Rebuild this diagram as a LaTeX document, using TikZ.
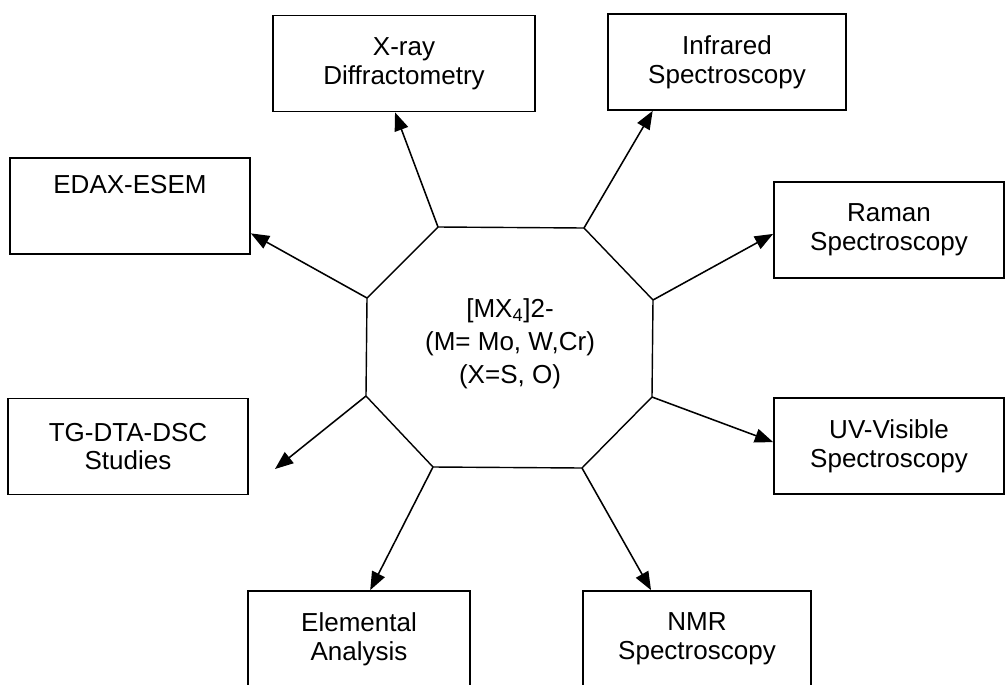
\documentclass[tikz,border=0pt]{standalone}
\usepackage{fontspec}
\setmainfont{Liberation Sans}
\usetikzlibrary{calc,arrows.meta,positioning}

\begin{document}
\begin{tikzpicture}[x=0.025cm,y=-0.025cm,
        box/.style={draw,line width=1.2pt,minimum height=2.4cm,align=center,
            inner sep=0pt,font=\fontsize{18.5}{20.5}\selectfont},
        arr/.style={line width=1.1pt,-{Triangle[length=13pt,width=10pt]}}]
        \useasboundingbox (0,0) rectangle (1008,685);

        % Восьмикутник у центрі (не правильний: 287 x 240)
        \coordinate (O1) at (438,227);
        \coordinate (O2) at (584,228);
        \coordinate (O3) at (653,300);
        \coordinate (O4) at (652,397);
        \coordinate (O5) at (582,468);
        \coordinate (O6) at (433,467);
        \coordinate (O7) at (366,396);
        \coordinate (O8) at (367,298);
        \draw[line width=1pt] (O1) -- (O2) -- (O3) -- (O4) -- (O5) -- (O6) -- (O7) -- (O8) -- cycle;

        \node[align=center,font=\fontsize{18.5}{20.5}\selectfont] (M) at (510,344)
            {[MX\textsubscript{4}]2-\\[3pt](M= Mo, W,Cr)\\[3pt](X=S, O)};

        % Прямокутники з методами
        \node[box,minimum width=6.55cm] (XR) at (404,63.5) {X-ray\\Diffractometry};
        \node[box,minimum width=5.95cm] (IR) at (727,62) {Infrared\\Spectroscopy};
        \node[box,minimum width=6cm] (ED) at (130,206) {EDAX-ESEM\\[10pt] \mbox{}};
        \node[box,minimum width=5.75cm] (RA) at (889,230) {Raman\\Spectroscopy};
        \node[box,minimum width=6cm] (TG) at (128,446.5) {TG-DTA-DSC\\Studies};
        \node[box,minimum width=5.75cm] (UV) at (889,446) {UV-Visible\\Spectroscopy};
        \node[box,minimum width=5.55cm] (EA) at (359,639) {Elemental\\Analysis};
        \node[box,minimum width=5.7cm] (NMR) at (697,639) {NMR\\Spectroscopy};

        % Стрілки від вершин
        \coordinate (T) at (275,469); % стрілка до TG не доходить до рамки
        \draw[arr] (O1) -- ($(XR.south west)!0.466!(XR.south east)$);
        \draw[arr] (O2) -- ($(IR.south west)!0.19!(IR.south east)$);
        \draw[arr] (O3) -- ($(RA.north west)!0.54!(RA.south west)$);
        \draw[arr] (O4) -- ($(UV.north west)!0.46!(UV.south west)$);
        \draw[arr] (O8) -- ($(ED.north east)!0.78!(ED.south east)$);
        \draw[arr] (O7) -- (T);
        \draw[arr] (O6) -- ($(EA.north west)!0.55!(EA.north east)$);
        \draw[arr] (O5) -- ($(NMR.north west)!0.3!(NMR.north east)$);
    \end{tikzpicture}
\end{document}
